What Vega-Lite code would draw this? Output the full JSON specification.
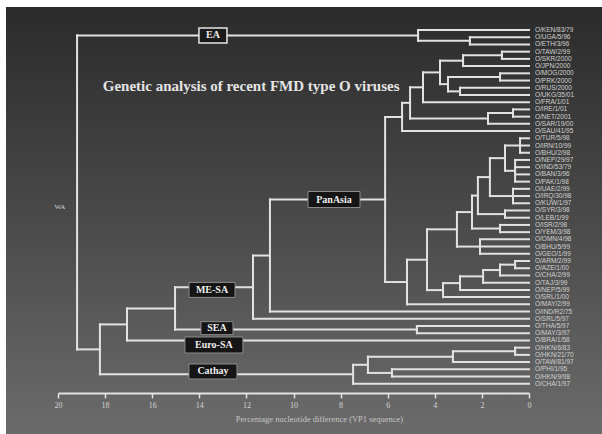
{
  "$schema": "https://vega.github.io/schema/vega-lite/v6.json",
  "width": 596,
  "height": 427,
  "autosize": {"type": "none"},
  "padding": {"left": 6, "top": 7, "right": 0, "bottom": 0},
  "background": "#ffffff",
  "view": {
    "stroke": null,
    "fill": {"gradient": "linear", "x1": 0, "y1": 0, "x2": 0, "y2": 1,
      "stops": [{"offset": 0, "color": "#2b2b2b"}, {"offset": 0.5, "color": "#4a4a4a"}, {"offset": 1, "color": "#6b6b6b"}]}
  },
  "datasets": {
    "segments": [
      {"pct":2.51,"pct2":2.51,"row":2,"row2":3},{"pct":4.71,"pct2":4.71,"row":1,"row2":2.5},
      {"pct":1.15,"pct2":1.15,"row":4,"row2":5},{"pct":2.8,"pct2":2.8,"row":4.5,"row2":6},
      {"pct":1.23,"pct2":1.23,"row":7,"row2":8},{"pct":2.93,"pct2":2.93,"row":9,"row2":10},
      {"pct":3.44,"pct2":3.44,"row":7.5,"row2":9.5},{"pct":3.78,"pct2":3.78,"row":5.25,"row2":8.5},
      {"pct":4.5,"pct2":4.5,"row":6.875,"row2":11},{"pct":0.68,"pct2":0.68,"row":12,"row2":13},
      {"pct":1.74,"pct2":1.74,"row":12.5,"row2":14},{"pct":5.05,"pct2":5.05,"row":8.94,"row2":13.25},
      {"pct":5.39,"pct2":5.39,"row":11.09,"row2":15},{"pct":0.38,"pct2":0.38,"row":16,"row2":18},
      {"pct":0.59,"pct2":0.59,"row":19,"row2":22},{"pct":1.02,"pct2":1.02,"row":17,"row2":20.5},
      {"pct":0.68,"pct2":0.68,"row":23,"row2":25},{"pct":1.66,"pct2":1.66,"row":18.75,"row2":24},
      {"pct":1.02,"pct2":1.02,"row":26,"row2":27},{"pct":2.17,"pct2":2.17,"row":21.375,"row2":26.5},
      {"pct":1.23,"pct2":1.23,"row":28,"row2":29},{"pct":2.42,"pct2":2.42,"row":23.94,"row2":28.5},
      {"pct":2.08,"pct2":2.08,"row":30,"row2":32},{"pct":3.06,"pct2":3.06,"row":26.22,"row2":31},
      {"pct":0.59,"pct2":0.59,"row":33,"row2":34},{"pct":1.23,"pct2":1.23,"row":33.5,"row2":35},
      {"pct":1.95,"pct2":1.95,"row":34.25,"row2":36},{"pct":2.93,"pct2":2.93,"row":35.125,"row2":37},
      {"pct":3.65,"pct2":3.65,"row":36.06,"row2":38},{"pct":4.33,"pct2":4.33,"row":28.61,"row2":37.03},
      {"pct":5.18,"pct2":5.18,"row":32.82,"row2":39},{"pct":6.11,"pct2":6.11,"row":13.05,"row2":35.91},
      {"pct":11.0,"pct2":11.0,"row":24.48,"row2":40},{"pct":11.72,"pct2":11.72,"row":32.24,"row2":41},
      {"pct":4.76,"pct2":4.76,"row":42,"row2":43},{"pct":15.03,"pct2":15.03,"row":36.62,"row2":42.5},
      {"pct":17.07,"pct2":17.07,"row":39.56,"row2":44},{"pct":0.59,"pct2":0.59,"row":45,"row2":46},
      {"pct":3.23,"pct2":3.23,"row":45.5,"row2":47},{"pct":5.82,"pct2":5.82,"row":48,"row2":49},
      {"pct":6.84,"pct2":6.84,"row":46.25,"row2":48.5},{"pct":7.47,"pct2":7.47,"row":47.375,"row2":50},
      {"pct":18.22,"pct2":18.22,"row":41.78,"row2":48.69},{"pct":19.19,"pct2":19.19,"row":1.75,"row2":45.24},

      {"pct":2.51,"pct2":0,"row":2,"row2":2},{"pct":2.51,"pct2":0,"row":3,"row2":3},
      {"pct":4.71,"pct2":0,"row":1,"row2":1},{"pct":4.71,"pct2":2.51,"row":2.5,"row2":2.5},
      {"pct":1.15,"pct2":0,"row":4,"row2":4},{"pct":1.15,"pct2":0,"row":5,"row2":5},
      {"pct":2.8,"pct2":1.15,"row":4.5,"row2":4.5},{"pct":2.8,"pct2":0,"row":6,"row2":6},
      {"pct":1.23,"pct2":0,"row":7,"row2":7},{"pct":1.23,"pct2":0,"row":8,"row2":8},
      {"pct":2.93,"pct2":0,"row":9,"row2":9},{"pct":2.93,"pct2":0,"row":10,"row2":10},
      {"pct":3.44,"pct2":1.23,"row":7.5,"row2":7.5},{"pct":3.44,"pct2":2.93,"row":9.5,"row2":9.5},
      {"pct":3.78,"pct2":2.8,"row":5.25,"row2":5.25},{"pct":3.78,"pct2":3.44,"row":8.5,"row2":8.5},
      {"pct":4.5,"pct2":3.78,"row":6.875,"row2":6.875},{"pct":4.5,"pct2":0,"row":11,"row2":11},
      {"pct":0.68,"pct2":0,"row":12,"row2":12},{"pct":0.68,"pct2":0,"row":13,"row2":13},
      {"pct":1.74,"pct2":0.68,"row":12.5,"row2":12.5},{"pct":1.74,"pct2":0,"row":14,"row2":14},
      {"pct":5.05,"pct2":4.5,"row":8.94,"row2":8.94},{"pct":5.05,"pct2":1.74,"row":13.25,"row2":13.25},
      {"pct":5.39,"pct2":5.05,"row":11.09,"row2":11.09},{"pct":5.39,"pct2":0,"row":15,"row2":15},
      {"pct":0.38,"pct2":0,"row":16,"row2":16},{"pct":0.38,"pct2":0,"row":17,"row2":17},{"pct":0.38,"pct2":0,"row":18,"row2":18},
      {"pct":0.59,"pct2":0,"row":19,"row2":19},{"pct":0.59,"pct2":0,"row":20,"row2":20},
      {"pct":0.59,"pct2":0,"row":21,"row2":21},{"pct":0.59,"pct2":0,"row":22,"row2":22},
      {"pct":1.02,"pct2":0.38,"row":17,"row2":17},{"pct":1.02,"pct2":0.59,"row":20.5,"row2":20.5},
      {"pct":0.68,"pct2":0,"row":23,"row2":23},{"pct":0.68,"pct2":0,"row":24,"row2":24},{"pct":0.68,"pct2":0,"row":25,"row2":25},
      {"pct":1.66,"pct2":1.02,"row":18.75,"row2":18.75},{"pct":1.66,"pct2":0.68,"row":24,"row2":24},
      {"pct":1.02,"pct2":0,"row":26,"row2":26},{"pct":1.02,"pct2":0,"row":27,"row2":27},
      {"pct":2.17,"pct2":1.66,"row":21.375,"row2":21.375},{"pct":2.17,"pct2":1.02,"row":26.5,"row2":26.5},
      {"pct":1.23,"pct2":0,"row":28,"row2":28},{"pct":1.23,"pct2":0,"row":29,"row2":29},
      {"pct":2.42,"pct2":2.17,"row":23.94,"row2":23.94},{"pct":2.42,"pct2":1.23,"row":28.5,"row2":28.5},
      {"pct":2.08,"pct2":0,"row":30,"row2":30},{"pct":2.08,"pct2":0,"row":31,"row2":31},{"pct":2.08,"pct2":0,"row":32,"row2":32},
      {"pct":3.06,"pct2":2.42,"row":26.22,"row2":26.22},{"pct":3.06,"pct2":2.08,"row":31,"row2":31},
      {"pct":0.59,"pct2":0,"row":33,"row2":33},{"pct":0.59,"pct2":0,"row":34,"row2":34},
      {"pct":1.23,"pct2":0.59,"row":33.5,"row2":33.5},{"pct":1.23,"pct2":0,"row":35,"row2":35},
      {"pct":1.95,"pct2":1.23,"row":34.25,"row2":34.25},{"pct":1.95,"pct2":0,"row":36,"row2":36},
      {"pct":2.93,"pct2":1.95,"row":35.125,"row2":35.125},{"pct":2.93,"pct2":0,"row":37,"row2":37},
      {"pct":3.65,"pct2":2.93,"row":36.06,"row2":36.06},{"pct":3.65,"pct2":0,"row":38,"row2":38},
      {"pct":4.33,"pct2":3.06,"row":28.61,"row2":28.61},{"pct":4.33,"pct2":3.65,"row":37.03,"row2":37.03},
      {"pct":5.18,"pct2":4.33,"row":32.82,"row2":32.82},{"pct":5.18,"pct2":0,"row":39,"row2":39},
      {"pct":6.11,"pct2":5.39,"row":13.05,"row2":13.05},{"pct":6.11,"pct2":5.18,"row":35.91,"row2":35.91},
      {"pct":11.0,"pct2":6.11,"row":24.48,"row2":24.48},{"pct":11.0,"pct2":0,"row":40,"row2":40},
      {"pct":11.72,"pct2":11.0,"row":32.24,"row2":32.24},{"pct":11.72,"pct2":0,"row":41,"row2":41},
      {"pct":4.76,"pct2":0,"row":42,"row2":42},{"pct":4.76,"pct2":0,"row":43,"row2":43},
      {"pct":15.03,"pct2":11.72,"row":36.62,"row2":36.62},{"pct":15.03,"pct2":4.76,"row":42.5,"row2":42.5},
      {"pct":17.07,"pct2":15.03,"row":39.56,"row2":39.56},{"pct":17.07,"pct2":0,"row":44,"row2":44},
      {"pct":0.59,"pct2":0,"row":45,"row2":45},{"pct":0.59,"pct2":0,"row":46,"row2":46},
      {"pct":3.23,"pct2":0.59,"row":45.5,"row2":45.5},{"pct":3.23,"pct2":0,"row":47,"row2":47},
      {"pct":5.82,"pct2":0,"row":48,"row2":48},{"pct":5.82,"pct2":0,"row":49,"row2":49},
      {"pct":6.84,"pct2":3.23,"row":46.25,"row2":46.25},{"pct":6.84,"pct2":5.82,"row":48.5,"row2":48.5},
      {"pct":7.47,"pct2":6.84,"row":47.375,"row2":47.375},{"pct":7.47,"pct2":0,"row":50,"row2":50},
      {"pct":18.22,"pct2":17.07,"row":41.78,"row2":41.78},{"pct":18.22,"pct2":7.47,"row":48.69,"row2":48.69},
      {"pct":19.19,"pct2":4.71,"row":1.75,"row2":1.75},{"pct":19.19,"pct2":18.22,"row":45.24,"row2":45.24}
    ],
    "leaves": [
      {"pct":0,"row":1,"name":"O/KEN/83/79"},{"pct":0,"row":2,"name":"O/UGA/5/96"},{"pct":0,"row":3,"name":"O/ETH/3/96"},
      {"pct":0,"row":4,"name":"O/TAW/2/99"},{"pct":0,"row":5,"name":"O/SKR/2000"},{"pct":0,"row":6,"name":"O/JPN/2000"},
      {"pct":0,"row":7,"name":"O/MOG/2000"},{"pct":0,"row":8,"name":"O/PRK/2000"},{"pct":0,"row":9,"name":"O/RUS/2000"},
      {"pct":0,"row":10,"name":"O/UKG/35/01"},{"pct":0,"row":11,"name":"O/FRA/1/01"},{"pct":0,"row":12,"name":"O/IRE/1/01"},
      {"pct":0,"row":13,"name":"O/NET/2001"},{"pct":0,"row":14,"name":"O/SAR/19/00"},{"pct":0,"row":15,"name":"O/SAU/41/95"},
      {"pct":0,"row":16,"name":"O/TUR/5/98"},{"pct":0,"row":17,"name":"O/IRN/10/99"},{"pct":0,"row":18,"name":"O/BHU/2/98"},
      {"pct":0,"row":19,"name":"O/NEP/29/97"},{"pct":0,"row":20,"name":"O/IND/53/79"},{"pct":0,"row":21,"name":"O/BAN/3/96"},
      {"pct":0,"row":22,"name":"O/PAK/1/98"},{"pct":0,"row":23,"name":"O/UAE/2/99"},{"pct":0,"row":24,"name":"O/IRQ/30/98"},
      {"pct":0,"row":25,"name":"O/KUW/1/97"},{"pct":0,"row":26,"name":"O/SYR/3/98"},{"pct":0,"row":27,"name":"O/LEB/1/99"},
      {"pct":0,"row":28,"name":"O/ISR/2/98"},{"pct":0,"row":29,"name":"O/YEM/3/98"},{"pct":0,"row":30,"name":"O/OMN/4/98"},
      {"pct":0,"row":31,"name":"O/BHU/5/99"},{"pct":0,"row":32,"name":"O/GEO/1/99"},{"pct":0,"row":33,"name":"O/ARM/2/99"},
      {"pct":0,"row":34,"name":"O/AZE/1/00"},{"pct":0,"row":35,"name":"O/CHA/2/99"},{"pct":0,"row":36,"name":"O/TAJ/3/99"},
      {"pct":0,"row":37,"name":"O/NEP/5/99"},{"pct":0,"row":38,"name":"O/SRL/1/00"},{"pct":0,"row":39,"name":"O/MAY/2/99"},
      {"pct":0,"row":40,"name":"O/IND/R2/75"},{"pct":0,"row":41,"name":"O/SRL/5/97"},{"pct":0,"row":42,"name":"O/THA/5/97"},
      {"pct":0,"row":43,"name":"O/MAY/3/97"},{"pct":0,"row":44,"name":"O/BRA/1/58"},{"pct":0,"row":45,"name":"O/HKN/6/83"},
      {"pct":0,"row":46,"name":"O/HKN/21/70"},{"pct":0,"row":47,"name":"O/TAW/81/97"},{"pct":0,"row":48,"name":"O/PHI/1/95"},
      {"pct":0,"row":49,"name":"O/HKN/9/98"},{"pct":0,"row":50,"name":"O/CHA/1/97"}
    ],
    "clades": [
      {"clade":"EA","pct":13.42,"row":1.75},
      {"clade":"PanAsia","pct":8.28,"row":24.48},
      {"clade":"ME-SA","pct":13.46,"row":37.0},
      {"clade":"SEA","pct":13.25,"row":42.3},
      {"clade":"Euro-SA","pct":13.38,"row":44.63},
      {"clade":"Cathay","pct":13.42,"row":48.3}
    ],
    "notes": [
      {"note":"Genetic analysis of recent FMD type O viruses","kind":"title","pct":11.8,"row":8.76},
      {"note":"WA","kind":"root","pct":19.92,"row":25.5}
    ]
  },
  "encoding": {
    "x": {"field": "pct", "type": "quantitative",
      "scale": {"domain": [0, 20], "range": [523, 52], "nice": false, "zero": false},
      "axis": {"values": [0,2,4,6,8,10,12,14,16,18,20], "format": "d", "grid": false, "offset": -41,
        "domain": true, "domainColor": "#e2e2e2", "domainWidth": 2,
        "tickColor": "#e2e2e2", "tickSize": 5, "tickWidth": 1.5,
        "labelColor": "#d4d4d4", "labelFont": "Liberation Serif", "labelFontSize": 8, "labelPadding": 3, "labelFlush": false,
        "title": "Percentage nucleotide difference (VP1 sequence)", "titleColor": "#c4c4c4",
        "titleFont": "Liberation Serif", "titleFontSize": 8.5, "titleFontWeight": "normal", "titlePadding": 5, "titleX": 313}},
    "y": {"field": "row", "type": "quantitative",
      "scale": {"domain": [-2.186, 56.96], "reverse": true, "nice": false, "zero": false}, "axis": null}
  },
  "layer": [
    {"data": {"name": "segments"},
     "mark": {"type": "rule", "stroke": "#e2e2e2", "strokeWidth": 2, "strokeCap": "square"},
     "encoding": {"x2": {"field": "pct2"}, "y2": {"field": "row2"}}},
    {"data": {"name": "leaves"},
     "mark": {"type": "text", "align": "left", "baseline": "middle", "dx": 6, "font": "Liberation Sans", "fontSize": 6.5, "fill": "#d0d0d0"},
     "encoding": {"text": {"field": "name"}}},
    {"data": {"name": "clades"}, "transform": [{"filter": "datum.clade === 'EA'"}],
     "mark": {"type": "point", "shape": "M-1,-0.536H1V0.536H-1Z", "size": 784, "filled": true, "fill": "#1a1a1a", "stroke": "#e6e6e6", "strokeWidth": 1.5, "opacity": 1}},
    {"data": {"name": "clades"}, "transform": [{"filter": "datum.clade === 'PanAsia'"}],
     "mark": {"type": "point", "shape": "M-1,-0.308H1V0.308H-1Z", "size": 2704, "filled": true, "fill": "#151515", "stroke": "#8c8c8c", "strokeWidth": 1, "opacity": 1}},
    {"data": {"name": "clades"}, "transform": [{"filter": "datum.clade === 'ME-SA'"}],
     "mark": {"type": "point", "shape": "M-1,-0.326H1V0.326H-1Z", "size": 2116, "filled": true, "fill": "#151515", "stroke": "#8c8c8c", "strokeWidth": 1, "opacity": 1}},
    {"data": {"name": "clades"}, "transform": [{"filter": "datum.clade === 'SEA'"}],
     "mark": {"type": "point", "shape": "M-1,-0.406H1V0.406H-1Z", "size": 1024, "filled": true, "fill": "#151515", "stroke": "#8c8c8c", "strokeWidth": 1, "opacity": 1}},
    {"data": {"name": "clades"}, "transform": [{"filter": "datum.clade === 'Euro-SA'"}],
     "mark": {"type": "point", "shape": "M-1,-0.276H1V0.276H-1Z", "size": 3364, "filled": true, "fill": "#151515", "stroke": "#8c8c8c", "strokeWidth": 1, "opacity": 1}},
    {"data": {"name": "clades"}, "transform": [{"filter": "datum.clade === 'Cathay'"}],
     "mark": {"type": "point", "shape": "M-1,-0.3125H1V0.3125H-1Z", "size": 2304, "filled": true, "fill": "#151515", "stroke": "#8c8c8c", "strokeWidth": 1, "opacity": 1}},
    {"data": {"name": "clades"},
     "mark": {"type": "text", "align": "center", "baseline": "middle", "font": "Liberation Serif", "fontSize": 10, "fontWeight": "bold", "fill": "#eeeeee"},
     "encoding": {"text": {"field": "clade"}}},
    {"data": {"name": "notes"}, "transform": [{"filter": "datum.kind === 'title'"}],
     "mark": {"type": "text", "align": "center", "baseline": "middle", "font": "Liberation Serif", "fontSize": 15, "fontWeight": "bold", "fill": "#e4e4e4"},
     "encoding": {"text": {"field": "note"}}},
    {"data": {"name": "notes"}, "transform": [{"filter": "datum.kind === 'root'"}],
     "mark": {"type": "text", "align": "center", "baseline": "middle", "font": "Liberation Serif", "fontSize": 7, "fill": "#d4d4d4"},
     "encoding": {"text": {"field": "note"}}}
  ]
}
